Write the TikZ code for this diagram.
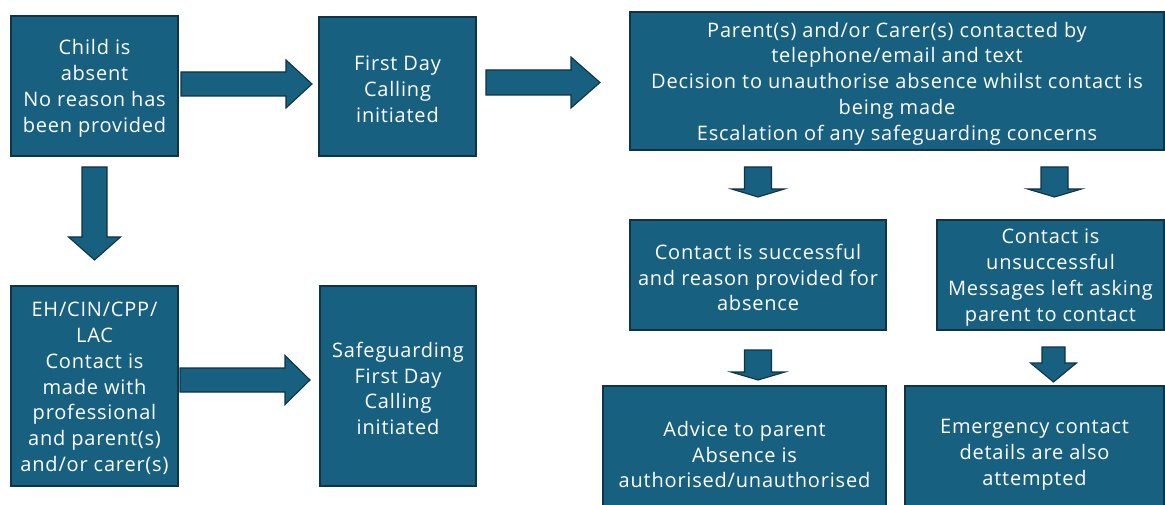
\documentclass[tikz,border=0pt]{standalone}
\usepackage{fontspec}
\setmainfont{Open Sans}[LetterSpace=4]
\definecolor{boxfill}{HTML}{17607F}
\definecolor{boxline}{HTML}{0F3347}
\newcommand{\blkright}[6]{% x0, xbase, xtip, yc, shaft half, head half
  \filldraw[blockarr] (#1,{#4-#5}) -- (#2,{#4-#5}) -- (#2,{#4-#6}) -- (#3,#4)
    -- (#2,{#4+#6}) -- (#2,{#4+#5}) -- (#1,{#4+#5}) -- cycle;}
\newcommand{\blkdown}[6]{% xc, ytop, ybase, ytip, shaft half, head half
  \filldraw[blockarr] ({#1-#5},#2) -- ({#1+#5},#2) -- ({#1+#5},#3) -- ({#1+#6},#3)
    -- (#1,#4) -- ({#1-#6},#3) -- ({#1-#5},#3) -- cycle;}
\begin{document}
\begin{tikzpicture}[x=1pt,y=-1pt,
  box/.style={draw=boxline, fill=boxfill, line width=1.6pt, inner sep=0pt},
  boxtext/.style={text=white, align=center, inner sep=0pt, yshift=-2.5pt,
    font=\fontsize{20}{25.8}\selectfont},
  blockarr/.style={draw=boxline, fill=boxfill, line width=1.1pt, line join=miter}]
\useasboundingbox (0,0) rectangle (1165,505);
\clip (0,0) rectangle (1165,505);
% boxes: centre (x,y), width, height
\node[box, minimum width=167pt, minimum height=140pt,
  label={[boxtext]center:{Child is\\absent\\No reason has\\been provided}}] (a) at (94.5,86) {};
\node[box, minimum width=157pt, minimum height=139pt,
  label={[boxtext]center:{First Day\\Calling\\initiated}}] (b) at (397.5,86.5) {};
\node[box, minimum width=534pt, minimum height=138pt,
  label={[boxtext]center:{Parent(s) and/or Carer(s) contacted by\\telephone/email and text\\Decision to unauthorise absence whilst contact is\\being made\\Escalation of any safeguarding concerns}}] (c) at (897,81) {};
\node[box, minimum width=167pt, minimum height=200pt,
  label={[boxtext]center:{EH/CIN/CPP/\\LAC\\Contact is\\made with\\professional\\and parent(s)\\and/or carer(s)}}] (d) at (94.5,386) {};
\node[box, minimum width=156pt, minimum height=200pt,
  label={[boxtext]center:{Safeguarding\\First Day\\Calling\\initiated}}] (e) at (398,386) {};
\node[box, minimum width=256pt, minimum height=110pt,
  label={[boxtext]center:{Contact is successful\\and reason provided for\\absence}}] (f) at (758,275) {};
\node[box, minimum width=227pt, minimum height=110pt,
  label={[boxtext]center:{Contact is\\unsuccessful\\Messages left asking\\parent to contact}}] (g) at (1050.5,275) {};
\node[box, minimum width=283pt, minimum height=132pt,
  label={[boxtext]center:{Advice to parent\\Absence is\\authorised/unauthorised}}] (h) at (744.5,452) {};
\node[box, minimum width=259pt, minimum height=132pt,
  label={[boxtext]center:{Emergency contact\\details are also\\attempted}}] (i) at (1034.5,452) {};
% block arrows
\blkright{181}{286}{312}{84}{12}{24}
\blkright{486}{571}{600}{82.5}{12.5}{25.5}
\blkright{180}{285}{310}{380}{12}{24.5}
\blkdown{94.5}{167}{237}{260}{12.5}{26}
\blkdown{758}{167}{189}{197}{13.5}{26.5}
\blkdown{1054.5}{167}{189}{197}{13.5}{27}
\blkdown{758}{350}{372}{380}{13.5}{27}
\blkdown{1053.5}{347}{363}{382}{11.5}{23}
\end{tikzpicture}
\end{document}
